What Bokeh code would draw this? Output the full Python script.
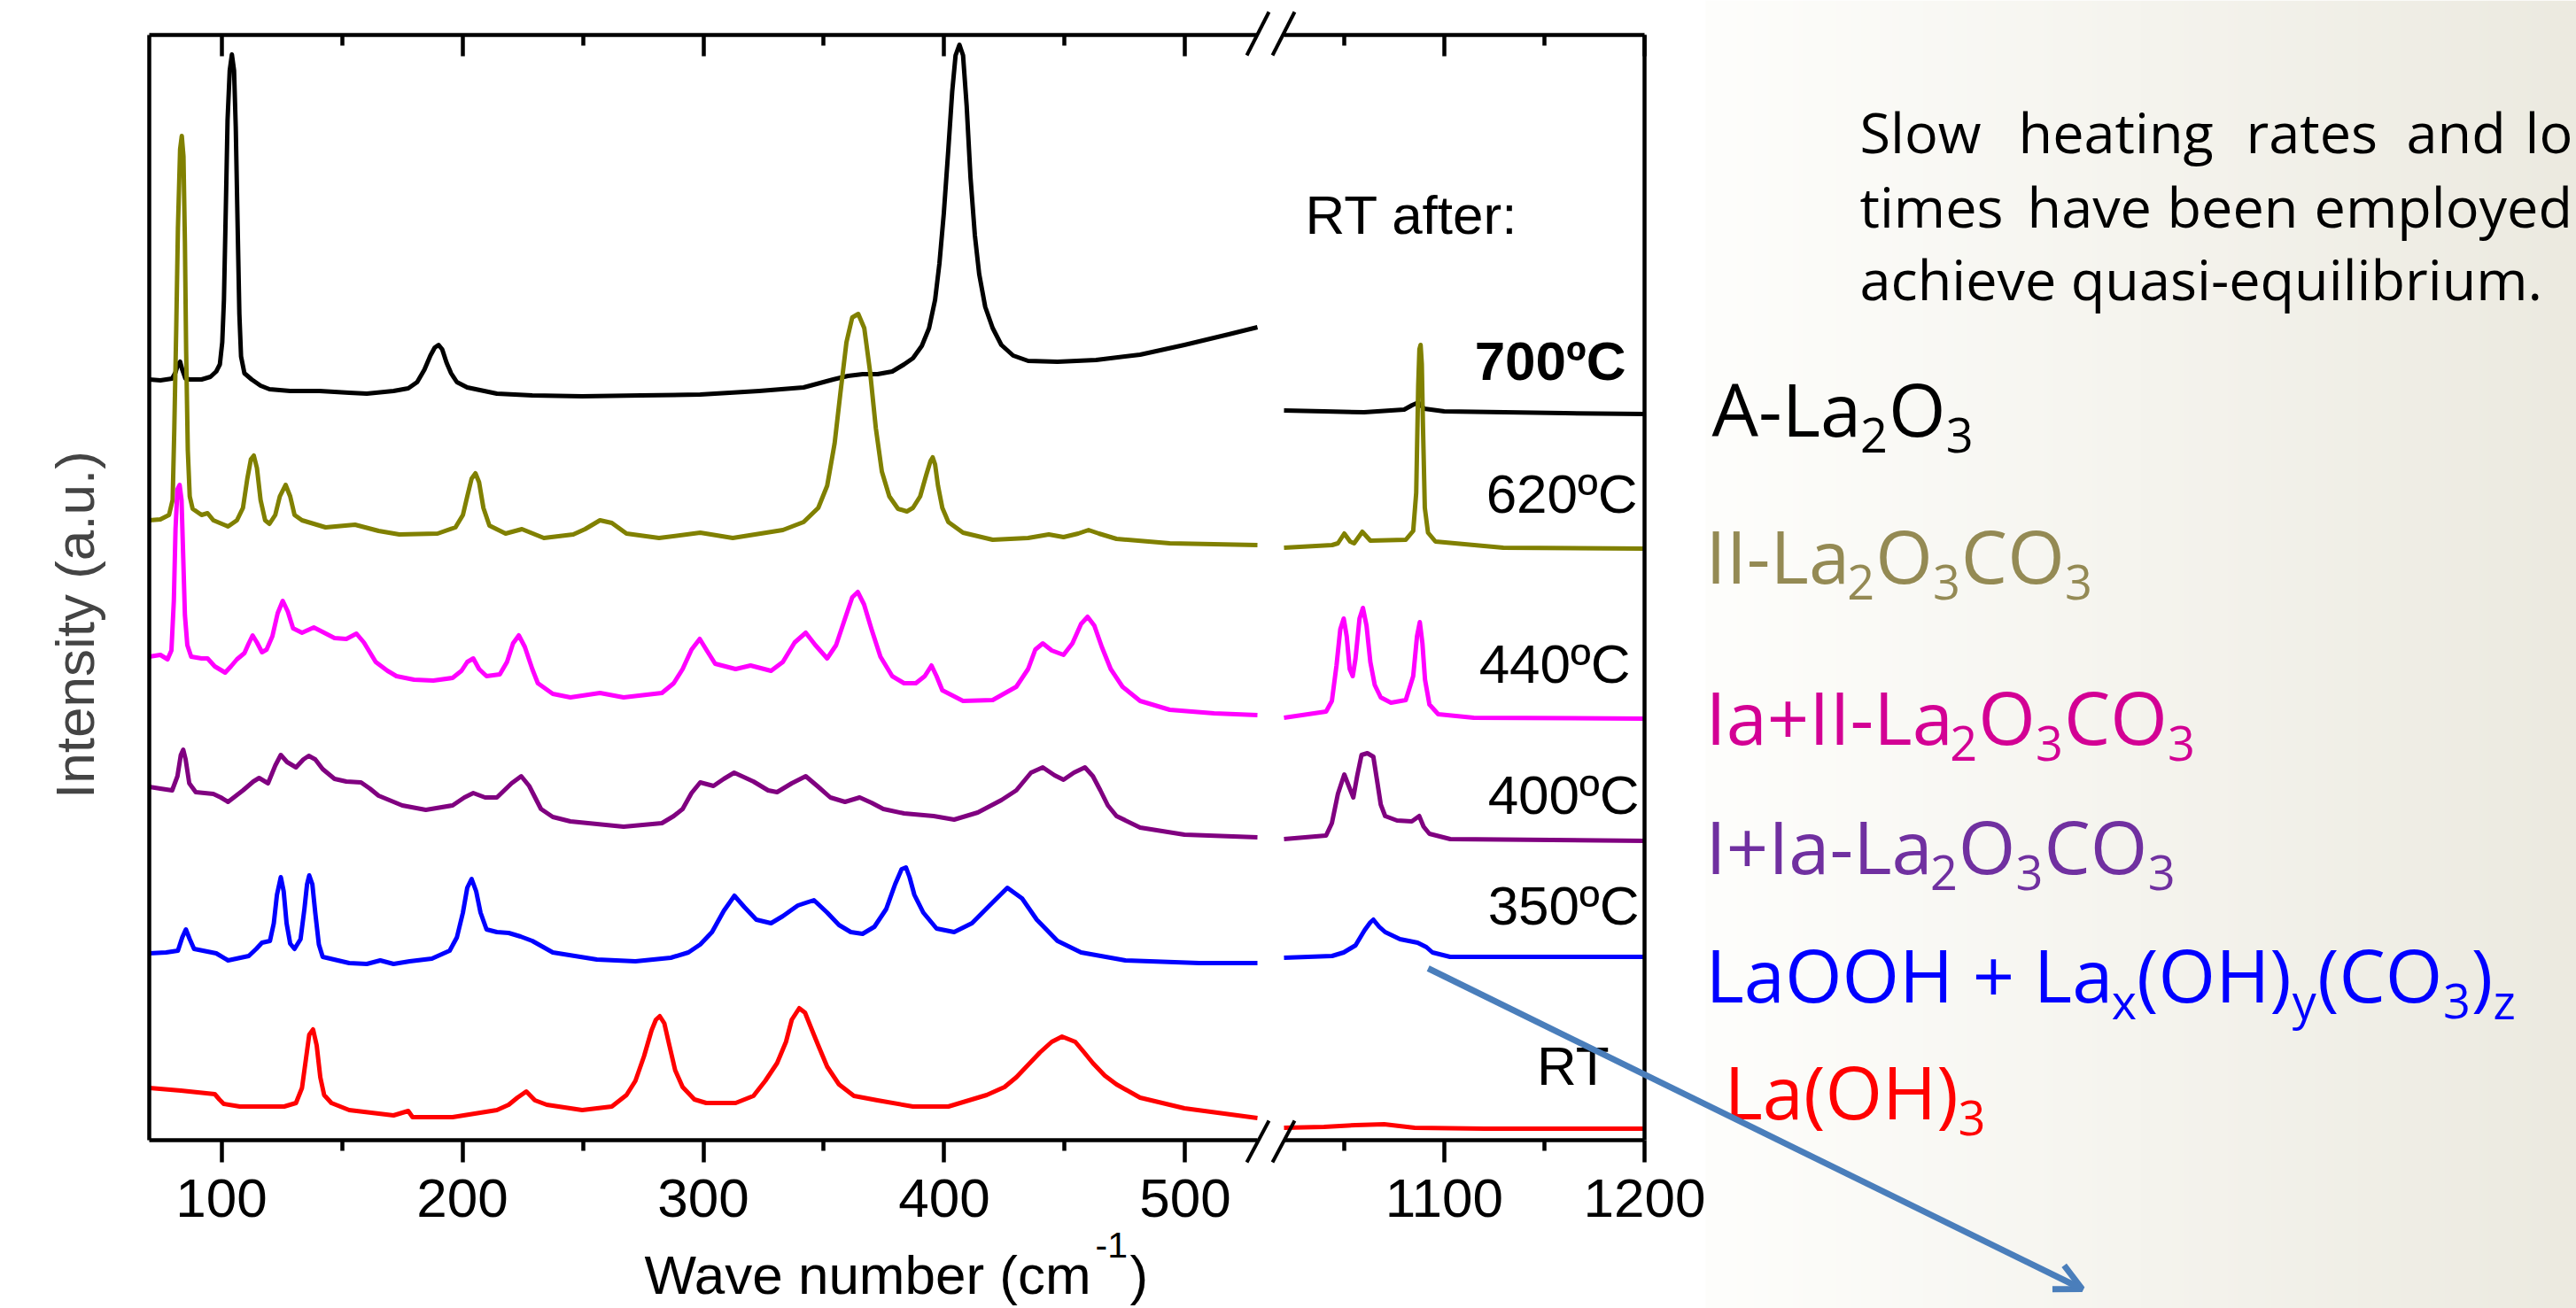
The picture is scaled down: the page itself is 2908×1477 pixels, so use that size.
import numpy as np
from bokeh.plotting import figure
from bokeh.models import Range1d, FixedTicker, LinearAxis, Label, Arrow, OpenHead
from bokeh.embed import file_html
from bokeh.resources import INLINE

# ---------------- values ----------------
# Raman spectra (wave number cm-1, stacked intensity a.u.); low window 70-530, high window 1020-1200
s700_low = [(70.0, 85.9), (74.6, 85.8), (79.5, 86.0), (80.9, 86.7), (81.9, 87.6), (82.8, 87.9), (83.7, 87.0),
            (85.0, 86.0), (86.8, 85.9), (91.7, 85.9), (95.4, 86.2), (97.8, 86.8), (99.3, 87.6), (100.3, 90.1),
            (101.0, 94.9), (101.8, 105.5), (102.5, 115.2), (103.4, 120.8), (104.3, 122.6), (105.2, 120.8),
            (105.9, 114.4), (106.7, 103.0), (107.4, 93.3), (108.1, 88.5), (109.5, 86.6), (112.5, 85.9),
            (116.2, 85.2), (119.9, 84.8), (128.5, 84.6), (140.7, 84.6), (153.0, 84.4), (160.3, 84.3),
            (171.4, 84.6), (177.5, 84.9), (181.2, 85.6), (184.2, 87.0), (186.7, 88.6), (188.5, 89.5),
            (190.1, 89.8), (191.6, 89.3), (193.4, 87.8), (195.3, 86.6), (197.7, 85.6), (202.0, 85.0),
            (214.3, 84.3), (229.0, 84.1), (249.7, 84.0), (274.2, 84.1), (298.7, 84.2), (323.2, 84.6),
            (341.6, 85.0), (353.9, 85.9), (360.0, 86.3), (366.1, 86.5), (372.3, 86.5), (378.4, 86.8),
            (383.3, 87.6), (387.0, 88.3), (390.7, 89.7), (393.7, 91.7), (396.2, 94.9), (398.0, 99.0),
            (399.8, 104.6), (401.7, 111.9), (403.3, 118.4), (404.7, 122.5), (406.3, 123.7), (407.8, 122.5),
            (409.3, 116.8), (410.9, 108.7), (412.7, 102.2), (414.5, 97.8), (417.0, 94.1), (420.1, 91.7),
            (423.7, 89.8), (428.6, 88.6), (434.8, 88.0), (447.0, 87.9), (463.0, 88.1), (481.3, 88.7),
            (499.7, 89.8), (518.1, 91.0), (530.0, 91.8)]
s700_high = [(1020.0, 82.4), (1040.0, 82.3), (1060.0, 82.2), (1080.0, 82.5), (1084.0, 83.0), (1087.0, 83.3),
             (1090.0, 82.6), (1100.0, 82.3), (1130.0, 82.2), (1160.0, 82.1), (1200.0, 82.0)]

s620_low = [(70.0, 70.0), (74.6, 70.1), (78.2, 70.6), (79.7, 72.3), (80.4, 80.4), (81.2, 91.7), (81.9, 103.0),
            (82.8, 111.9), (83.5, 113.4), (84.2, 111.1), (84.8, 101.4), (85.3, 89.3), (86.0, 77.9), (86.8, 72.7),
            (88.0, 71.3), (91.7, 70.6), (94.2, 70.8), (96.6, 70.0), (102.7, 69.3), (106.4, 70.0), (108.9, 71.4),
            (110.7, 74.7), (112.2, 76.9), (113.4, 77.3), (114.7, 75.9), (116.2, 72.3), (118.1, 70.0),
            (119.9, 69.6), (122.3, 70.6), (124.2, 72.7), (126.6, 74.0), (128.5, 72.7), (130.3, 70.6),
            (133.4, 70.0), (143.2, 69.2), (155.4, 69.5), (165.2, 68.8), (173.8, 68.4), (189.7, 68.5),
            (197.1, 69.2), (200.2, 70.6), (202.0, 72.7), (203.8, 74.7), (205.4, 75.3), (206.9, 74.3),
            (208.7, 71.4), (211.2, 69.4), (217.9, 68.5), (224.7, 69.0), (233.8, 68.0), (246.0, 68.4),
            (250.9, 69.0), (257.1, 70.0), (262.0, 69.7), (268.1, 68.5), (281.6, 68.0), (298.7, 68.6),
            (312.2, 68.0), (333.0, 68.9), (341.6, 69.8), (347.7, 71.4), (351.4, 73.9), (354.5, 78.7),
            (356.9, 84.4), (359.4, 90.1), (361.8, 92.9), (364.3, 93.3), (366.8, 91.7), (369.2, 86.8),
            (371.6, 80.4), (374.1, 75.5), (377.2, 72.7), (380.8, 71.3), (384.5, 71.0), (387.0, 71.4),
            (390.0, 72.7), (392.5, 75.1), (394.3, 76.7), (395.2, 77.1), (396.2, 76.3), (397.4, 73.9),
            (399.2, 71.4), (401.7, 69.8), (407.8, 68.6), (420.1, 67.8), (434.8, 68.0), (443.4, 68.4),
            (449.5, 68.1), (455.6, 68.5), (459.9, 68.9), (464.2, 68.5), (471.5, 67.9), (493.6, 67.4),
            (530.0, 67.2)]
s620_high = [(1020.0, 66.9), (1044.0, 67.2), (1046.9, 67.4), (1050.1, 68.5), (1053.0, 67.6), (1055.0, 67.4),
             (1059.1, 68.7), (1063.1, 67.7), (1080.8, 67.8), (1084.5, 68.8), (1086.0, 73.1), (1087.0, 85.2),
             (1087.6, 89.3), (1088.2, 89.8), (1088.8, 87.6), (1089.4, 80.4), (1090.3, 71.4), (1091.9, 68.6),
             (1095.6, 67.6), (1129.5, 66.9), (1200.0, 66.8)]

s440_low = [(70.0, 54.6), (74.6, 54.8), (77.6, 54.3), (79.2, 55.3), (80.2, 60.9), (80.9, 69.0), (81.7, 73.5),
            (82.6, 74.0), (83.4, 72.3), (84.1, 65.8), (84.8, 59.3), (85.8, 55.9), (87.4, 54.6), (91.7, 54.4),
            (94.2, 54.4), (97.2, 53.5), (101.5, 52.8), (103.9, 53.5), (106.4, 54.3), (109.5, 55.0),
            (111.3, 56.1), (112.9, 57.0), (114.7, 56.2), (116.8, 55.1), (118.7, 55.4), (121.1, 56.9),
            (123.3, 59.5), (125.4, 60.9), (127.5, 59.7), (129.7, 57.8), (133.4, 57.3), (138.3, 57.9),
            (141.9, 57.4), (146.9, 56.7), (151.8, 56.6), (156.0, 57.2), (159.1, 56.2), (164.0, 54.0),
            (168.9, 53.0), (172.6, 52.4), (179.9, 52.0), (187.9, 51.9), (195.9, 52.2), (199.6, 53.0),
            (202.0, 54.0), (204.5, 54.4), (206.9, 53.2), (210.0, 52.4), (215.5, 52.6), (218.5, 54.0),
            (221.0, 56.1), (223.4, 57.0), (225.9, 55.7), (229.0, 53.2), (231.3, 51.6), (237.5, 50.4),
            (244.8, 50.0), (257.1, 50.5), (266.9, 50.0), (282.8, 50.5), (287.7, 51.6), (291.4, 53.2),
            (295.1, 55.4), (298.5, 56.6), (301.2, 55.4), (304.9, 53.8), (313.4, 53.2), (319.6, 53.6),
            (328.1, 53.0), (333.0, 54.0), (337.9, 56.2), (342.5, 57.3), (346.5, 55.9), (351.4, 54.4),
            (355.1, 55.9), (358.8, 58.9), (361.8, 61.3), (364.1, 61.9), (366.7, 60.5), (369.8, 57.7),
            (373.5, 54.6), (378.4, 52.4), (383.3, 51.6), (388.2, 51.6), (391.9, 52.4), (394.7, 53.6),
            (396.8, 52.4), (399.2, 50.8), (407.8, 49.6), (420.1, 49.7), (429.9, 51.2), (434.8, 53.2),
            (437.8, 55.4), (440.9, 56.1), (444.6, 55.3), (449.5, 54.8), (453.2, 56.1), (456.8, 58.3),
            (459.5, 59.1), (462.3, 58.1), (465.4, 55.7), (469.1, 53.2), (474.0, 51.2), (481.3, 49.6),
            (493.6, 48.6), (512.0, 48.2), (530.0, 48.0)]
s440_high = [(1020.0, 47.7), (1041.0, 48.4), (1043.9, 49.6), (1046.2, 53.6), (1048.1, 57.7), (1049.8, 58.9),
             (1051.3, 56.9), (1052.8, 53.2), (1054.3, 52.4), (1055.7, 54.4), (1057.7, 58.9), (1059.4, 60.1),
             (1061.2, 58.1), (1063.1, 54.0), (1065.3, 51.4), (1068.3, 50.0), (1073.4, 49.4), (1080.8, 49.7),
             (1084.5, 52.4), (1086.4, 56.9), (1087.8, 58.5), (1089.1, 56.1), (1090.4, 52.0), (1092.6, 49.2),
             (1097.0, 48.1), (1114.7, 47.7), (1200.0, 47.6)]

s400_low = [(70.0, 39.9), (74.6, 39.7), (79.5, 39.5), (81.7, 41.1), (83.1, 43.5), (84.1, 44.1), (85.1, 43.0),
            (86.6, 40.3), (89.3, 39.3), (96.6, 39.1), (99.7, 38.7), (102.7, 38.2), (108.9, 39.5), (113.2, 40.5),
            (115.6, 40.9), (119.3, 40.3), (122.3, 42.3), (124.6, 43.5), (127.2, 42.7), (130.9, 42.1),
            (134.0, 43.0), (136.2, 43.4), (138.9, 43.0), (142.0, 41.9), (146.9, 40.8), (151.8, 40.5),
            (157.9, 40.4), (161.6, 39.7), (165.2, 38.9), (175.0, 37.8), (184.8, 37.3), (195.9, 37.8),
            (200.8, 38.7), (204.5, 39.2), (209.4, 38.7), (214.3, 38.7), (220.4, 40.3), (224.4, 41.1),
            (227.7, 40.0), (232.6, 37.4), (237.5, 36.5), (244.8, 36.0), (266.9, 35.4), (282.8, 35.8),
            (287.7, 36.6), (291.4, 37.4), (295.1, 39.2), (298.7, 40.4), (304.2, 40.0), (308.5, 40.8),
            (312.8, 41.5), (320.8, 40.5), (326.9, 39.5), (330.6, 39.3), (336.7, 40.3), (342.5, 41.1),
            (347.7, 39.9), (352.7, 38.7), (358.8, 38.2), (364.9, 38.7), (369.8, 38.1), (374.7, 37.4),
            (383.3, 36.9), (395.6, 36.6), (404.1, 36.2), (413.9, 37.0), (423.7, 38.4), (429.9, 39.5),
            (436.0, 41.5), (440.9, 42.1), (445.8, 41.2), (449.5, 40.7), (453.8, 41.5), (458.4, 42.1),
            (461.7, 41.1), (464.8, 39.5), (467.9, 37.8), (471.5, 36.6), (481.3, 35.3), (499.7, 34.5),
            (530.0, 34.2)]
s400_high = [(1020.0, 34.0), (1041.0, 34.4), (1043.9, 35.8), (1046.9, 39.1), (1050.1, 41.3), (1052.5, 39.9),
             (1054.6, 38.7), (1056.5, 41.1), (1058.7, 43.5), (1061.6, 43.7), (1064.6, 43.3), (1066.4, 40.7),
             (1068.3, 37.9), (1070.5, 36.6), (1076.4, 36.1), (1083.8, 36.0), (1087.5, 36.6), (1089.7, 35.4),
             (1092.6, 34.6), (1103.0, 34.0), (1200.0, 33.8)]

s350_low = [(70.0, 21.1), (77.0, 21.2), (81.9, 21.4), (83.7, 22.9), (85.2, 23.8), (86.8, 22.7), (88.6, 21.6),
            (97.8, 21.1), (102.7, 20.3), (111.3, 20.8), (114.4, 21.6), (116.8, 22.3), (120.1, 22.5),
            (121.7, 24.5), (123.0, 27.7), (124.6, 29.7), (125.8, 28.1), (127.0, 24.5), (128.5, 22.2),
            (130.3, 21.6), (132.8, 22.7), (134.4, 26.1), (135.5, 28.9), (136.4, 29.9), (137.7, 28.9),
            (138.9, 25.7), (140.4, 22.1), (142.0, 20.7), (153.0, 20.0), (160.3, 19.9), (165.9, 20.3),
            (171.4, 19.9), (178.1, 20.2), (187.3, 20.5), (194.7, 21.4), (197.7, 22.9), (200.2, 25.7),
            (202.0, 28.5), (203.8, 29.5), (205.7, 28.1), (207.5, 25.7), (210.0, 23.8), (214.3, 23.5),
            (219.2, 23.4), (224.1, 23.0), (229.0, 22.5), (237.5, 21.2), (255.8, 20.4), (271.8, 20.2),
            (286.5, 20.6), (293.8, 21.2), (298.7, 22.1), (303.6, 23.5), (308.5, 25.9), (312.9, 27.6),
            (317.1, 26.3), (322.0, 24.9), (328.1, 24.5), (333.0, 25.3), (339.2, 26.5), (345.9, 27.1),
            (351.4, 25.7), (356.3, 24.3), (361.2, 23.5), (366.1, 23.3), (371.0, 24.1), (375.9, 26.1),
            (379.6, 28.9), (382.3, 30.6), (384.1, 30.8), (385.6, 29.7), (387.6, 27.7), (391.3, 25.7),
            (396.8, 23.9), (404.1, 23.5), (411.5, 24.5), (418.8, 26.5), (426.2, 28.5), (432.3, 27.3),
            (438.4, 24.9), (447.0, 22.5), (456.8, 21.2), (475.2, 20.3), (505.8, 20.0), (530.0, 20.0)]
s350_high = [(1020.0, 20.6), (1044.0, 20.8), (1049.8, 21.2), (1055.7, 22.0), (1060.2, 23.7), (1063.1, 24.6),
             (1064.6, 24.9), (1067.5, 24.1), (1070.5, 23.5), (1077.9, 22.7), (1086.7, 22.3), (1091.1, 21.8),
             (1094.1, 21.2), (1102.9, 20.7), (1200.0, 20.7)]

sRT_low = [(70.0, 5.9), (83.1, 5.6), (97.2, 5.2), (99.1, 4.6), (100.9, 4.1), (107.6, 3.8), (126.0, 3.8),
           (130.9, 4.2), (133.4, 5.9), (135.0, 9.1), (136.4, 11.9), (138.0, 12.5), (139.5, 10.7), (141.0, 7.1),
           (142.6, 5.1), (145.6, 4.2), (153.0, 3.4), (171.4, 2.8), (177.5, 3.3), (179.3, 2.6), (195.9, 2.6),
           (214.3, 3.4), (219.2, 4.0), (222.8, 4.8), (226.5, 5.5), (230.1, 4.5), (235.0, 4.0), (249.7, 3.4),
           (262.0, 3.8), (268.1, 5.1), (271.8, 6.7), (275.4, 9.5), (278.5, 12.4), (280.3, 13.6), (281.9, 14.0),
           (283.8, 13.2), (285.9, 10.7), (288.3, 7.9), (291.4, 6.0), (296.3, 4.6), (301.2, 4.2), (313.4, 4.2),
           (320.8, 5.0), (325.7, 6.7), (330.6, 8.7), (334.3, 11.1), (336.7, 13.6), (339.8, 14.9),
           (342.2, 14.4), (344.7, 12.7), (347.7, 10.7), (351.4, 8.3), (356.3, 6.3), (362.5, 5.0),
           (372.3, 4.5), (387.0, 3.8), (401.7, 3.8), (417.6, 5.1), (425.0, 6.0), (429.9, 7.1), (434.8, 8.5),
           (439.7, 9.9), (444.6, 11.1), (448.9, 11.7), (454.4, 11.1), (458.1, 9.9), (461.7, 8.7),
           (466.6, 7.3), (471.5, 6.3), (481.3, 4.8), (499.7, 3.6), (530.0, 2.5)]
sRT_high = [(1020.0, 1.4), (1040.0, 1.5), (1055.7, 1.7), (1070.0, 1.8), (1085.2, 1.4), (1120.0, 1.3),
            (1200.0, 1.3)]

temperatures = ["700ºC", "620ºC", "440ºC", "400ºC", "350ºC", "RT"]
line_colors = ["#000000", "#808000", "#ff00ff", "#800080", "#0000ff", "#ff0000"]
low_series = [s700_low, s620_low, s440_low, s400_low, s350_low, sRT_low]
high_series = [s700_high, s620_high, s440_high, s400_high, s350_high, sRT_high]

low_ticks, low_minor = [100, 200, 300, 400, 500], [150, 250, 350, 450]
high_ticks, high_minor = [1100, 1200], [1050, 1150]

# phase names as (text, is_subscript) runs
phases = [
    [("A-La", 0), ("2", 1), ("O", 0), ("3", 1)],
    [("II-La", 0), ("2", 1), ("O", 0), ("3", 1), ("CO", 0), ("3", 1)],
    [("Ia+II-La", 0), ("2", 1), ("O", 0), ("3", 1), ("CO", 0), ("3", 1)],
    [("I+Ia-La", 0), ("2", 1), ("O", 0), ("3", 1), ("CO", 0), ("3", 1)],
    [("LaOOH + La", 0), ("x", 1), ("(OH)", 0), ("y", 1), ("(CO", 0), ("3", 1), (")", 0), ("z", 1)],
    [("La(OH)", 0), ("3", 1)],
]
phase_colors = ["#000000", "#948A54", "#D30094", "#7030A0", "#0000FF", "#FF0000"]

# ---------------- page geometry (pixels) ----------------
W, H = 2908, 1477
PLOT_FONT = "Liberation Sans"
SLIDE_FONT = "Open Sans"
FRAME_TOP, FRAME_BOTTOM = 39, 1287
LO_PX = (168, 1419)      # pixel span of 70..530
HI_PX = (1449, 1856)     # pixel span of 1020..1200
T_X0 = 1925              # start of the slide-text area
BASE_SHIFT = 0.39        # baseline correction (em)

K_LO = (LO_PX[1] - LO_PX[0]) / (530 - 70)
K_HI = (HI_PX[1] - HI_PX[0]) / (1200 - 1020)
Y_TOP = (FRAME_BOTTOM - FRAME_TOP) / 10.0

p = figure(width=W, height=H, x_range=Range1d(0, W),
           y_range=Range1d((FRAME_BOTTOM - H) / 10.0, FRAME_BOTTOM / 10.0),
           output_backend="svg", toolbar_location=None, x_axis_location=None, y_axis_location=None,
           min_border=0, background_fill_color="white", border_fill_color="white")
p.outline_line_color = None
p.grid.visible = False
p.extra_x_ranges = {"low": Range1d(70 - LO_PX[0] / K_LO, 70 + (W - LO_PX[0]) / K_LO),
                    "high": Range1d(1020 - HI_PX[0] / K_HI, 1020 + (W - HI_PX[0]) / K_HI)}
p.extra_y_ranges = {"px": Range1d(H, 0)}

# slide background gradient on the right
n = W - T_X0
frac = np.linspace(0.0, 1.0, n)
img = np.zeros((2, n), dtype=np.uint32)
view = img.view(dtype=np.uint8).reshape((2, n, 4))
view[:, :, 0] = (254 - 18 * frac).astype(np.uint8)
view[:, :, 1] = (254 - 20 * frac).astype(np.uint8)
view[:, :, 2] = (252 - 28 * frac).astype(np.uint8)
view[:, :, 3] = 255
p.image_rgba(image=[img], x=T_X0, y=0, dw=n, dh=H, y_range_name="px")

AX = dict(axis_line_width=4.5, axis_line_color="black", major_tick_line_width=4.5,
          minor_tick_line_width=4.5, major_tick_line_color="black", minor_tick_line_color="black")


def x_axes(rname, ticks, minor, bounds):
    b = LinearAxis(x_range_name=rname, fixed_location=0, bounds=bounds,
                   ticker=FixedTicker(ticks=ticks, minor_ticks=minor), major_tick_in=0, major_tick_out=25,
                   minor_tick_in=0, minor_tick_out=12, major_label_standoff=19,
                   major_label_text_font=PLOT_FONT, major_label_text_font_size="62px",
                   major_label_text_color="black", **AX)
    p.add_layout(b, "below")
    t = LinearAxis(x_range_name=rname, fixed_location=Y_TOP, bounds=bounds,
                   ticker=FixedTicker(ticks=ticks, minor_ticks=minor), major_tick_in=24, major_tick_out=0,
                   minor_tick_in=12, minor_tick_out=0, major_label_text_color=None, **AX)
    p.add_layout(t, "above")


def y_line(rname, loc, side):
    a = LinearAxis(x_range_name=rname, fixed_location=loc, bounds=(0, Y_TOP), ticker=FixedTicker(ticks=[]),
                   major_tick_in=0, major_tick_out=0, minor_tick_in=0, minor_tick_out=0,
                   major_label_text_color=None, **AX)
    p.add_layout(a, side)


x_axes("low", low_ticks, low_minor, (70, 530))
x_axes("high", high_ticks, high_minor, (1020, 1200))
y_line("low", 70, "left")
y_line("high", 1200, "right")

for s, c in zip(low_series, line_colors):
    xs, ys = zip(*s)
    p.line(list(xs), list(ys), x_range_name="low", line_color=c, line_width=5, line_join="round")
for s, c in zip(high_series, line_colors):
    xs, ys = zip(*s)
    p.line(list(xs), list(ys), x_range_name="high", line_color=c, line_width=5, line_join="round")


def lab(x, base, text, size, font=PLOT_FONT, color="black", align="left", style="normal"):
    p.add_layout(Label(x=x, y=base - BASE_SHIFT * size, y_range_name="px", text=text, text_font=font,
                       text_font_size=f"{size}px", text_color=color, text_align=align,
                       text_baseline="alphabetic", text_font_style=style))


def seg(x0, y0, x1, y1, color="black", width=4.0, head=None):
    p.add_layout(Arrow(start=None, end=head, x_start=x0, y_start=y0, x_end=x1, y_end=y1, y_range_name="px",
                       line_color=color, line_width=width))


# axis titles
p.add_layout(Label(x=108 - BASE_SHIFT * 62, y=705, y_range_name="px", text="Intensity (a.u.)",
                   text_font=PLOT_FONT, text_font_size="62px", text_align="center",
                   text_baseline="alphabetic", angle=np.pi / 2))
lab(727, 1463, "Wave number (cm", 62)
lab(1236, 1421, "-1", 41)
lab(1275, 1463, ")", 62)

# axis-break marks
for x0 in (1407, 1436):
    seg(x0, 1312, x0 + 25, 1265)
    seg(x0, 62, x0 + 25, 13)

# labels inside the plot
lab(1473, 266, "RT after:", 62)
temp_pos = [(1835, 431), (1848, 581), (1840, 773), (1850, 921), (1850, 1046), (1816, 1227)]
for t, (px, base) in zip(temperatures, temp_pos):
    lab(px, base, t, 62, align="right", style="bold" if t == "700ºC" else "normal")

# slide paragraph (justified lines placed word by word)
para = [[("Slow", 2099), ("heating", 2278), ("rates", 2535), ("and", 2716), ("lo", 2850)],
        [("times", 2099), ("have", 2288), ("been", 2446), ("employed", 2612)],
        [("achieve quasi-equilibrium.", 2099)]]
for words, base in zip(para, [173, 257, 339]):
    for w, px in words:
        lab(px, base, w, 63, font=SLIDE_FONT)

# phase names with subscripts
OS_W = {' ': 0.26, '(': 0.297, ')': 0.297, '+': 0.572, '-': 0.322, 'A': 0.633, 'C': 0.631, 'H': 0.742,
        'I': 0.27, 'L': 0.507, 'O': 0.781, 'a': 0.556, 'x': 0.505, 'y': 0.505, 'z': 0.443}
MAIN, SUB, DROP = 83, 54, 20
phase_pos = [(1932, 492), (T_X0, 658), (T_X0, 840), (T_X0, 986), (T_X0, 1131), (1946, 1263)]
for runs, col, (px, base) in zip(phases, phase_colors, phase_pos):
    x = px
    for txt, sub in runs:
        size = SUB if sub else MAIN
        lab(x, base + (DROP if sub else 0), txt, size, font=SLIDE_FONT, color=col)
        x += sum(OS_W.get(ch, 0.572) for ch in txt) * size + (1 if sub else 0)

# blue arrow
seg(1611.7, 1093.0, 2350.0, 1455.0, color="#4A7EBB", width=7,
    head=OpenHead(size=30, line_color="#4A7EBB", line_width=7))

open("out.html", "w").write(file_html(p, INLINE))
